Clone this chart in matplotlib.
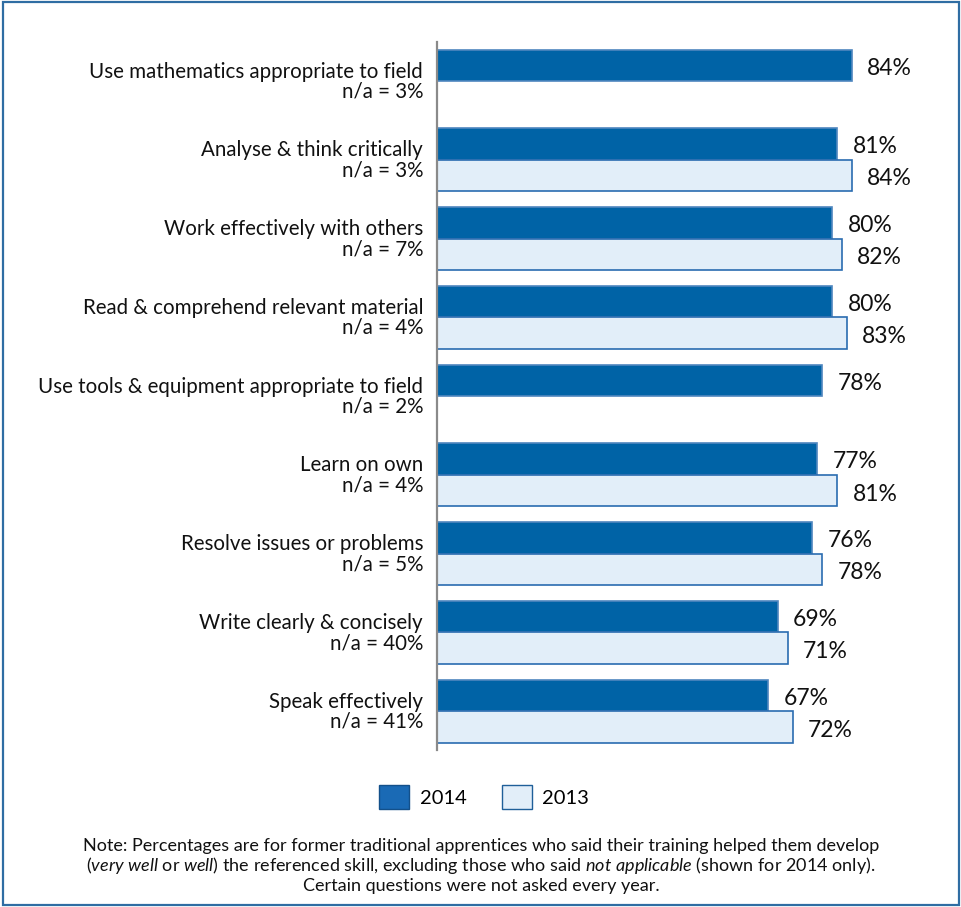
import matplotlib
matplotlib.use("Agg")
import matplotlib.pyplot as plt
import numpy as np
from matplotlib.patches import Patch, Rectangle

plt.rcParams["font.family"] = ["Lato", "DejaVu Sans"]
plt.rcParams["mathtext.fontset"] = "custom"
plt.rcParams["mathtext.rm"] = "Lato"
plt.rcParams["mathtext.it"] = "Lato:italic"

skills = [
    "Use mathematics appropriate to field",
    "Analyse & think critically",
    "Work effectively with others",
    "Read & comprehend relevant material",
    "Use tools & equipment appropriate to field",
    "Learn on own",
    "Resolve issues or problems",
    "Write clearly & concisely",
    "Speak effectively",
]
na_2014 = [3, 3, 7, 4, 2, 4, 5, 40, 41]
vals_2014 = [84, 81, 80, 80, 78, 77, 76, 69, 67]
vals_2013 = [None, 84, 82, 83, None, 81, 78, 71, 72]

dark = "#0063A6"
dark_edge = "#4F86BF"
light = "#E2EEF9"
light_edge = "#2A6CB0"

fig = plt.figure(figsize=(9.61, 9.07), dpi=100)
ax = fig.add_axes([437 / 961, 0.1726, 494 / 961, 0.7815])

y = np.arange(len(skills))
h = 0.4
ax.barh(y - h / 2, vals_2014, height=h, color=dark, edgecolor=dark_edge, linewidth=1.2)
y13 = [yy for yy, v in zip(y, vals_2013) if v is not None]
v13 = [v for v in vals_2013 if v is not None]
ax.barh(np.array(y13) + h / 2, v13, height=h, color=light, edgecolor=light_edge, linewidth=1.2)

for yy, v in zip(y, vals_2014):
    ax.annotate(f"{v}%", (v, yy - h / 2), xytext=(11, -2), textcoords="offset points",
                ha="left", va="center", fontsize=16.5, color="#111111")
for yy, v in zip(y13, v13):
    ax.annotate(f"{v}%", (v, yy + h / 2), xytext=(11, -2.5), textcoords="offset points",
                ha="left", va="center", fontsize=16.5, color="#111111")

for yy, s, n in zip(y, skills, na_2014):
    ax.annotate(f"{s}\nn/a = {n}%", (0, yy), xycoords=("axes fraction", "data"),
                xytext=(-10, -0.5), textcoords="offset points", ha="right", va="center",
                fontsize=14.8, linespacing=1.0, color="#111111")

ax.set_xlim(0, 100)
ax.set_ylim(8.5, -0.5)
ax.set_xticks([])
ax.set_yticks([])
for sp in ["top", "right", "bottom"]:
    ax.spines[sp].set_visible(False)
ax.spines["left"].set_color("#8A8A8A")
ax.spines["left"].set_linewidth(1.6)

handles = [Patch(facecolor="#1A6AB5", edgecolor="#13508A", label="2014"),
           Patch(facecolor=light, edgecolor="#1F5F99", label="2013")]
fig.legend(handles=handles, loc="center", bbox_to_anchor=(484 / 961, 1 - 797 / 907),
           ncol=2, frameon=False, fontsize=14.5, handlelength=1.5, handleheight=1.5,
           handletextpad=0.5, columnspacing=1.75)

note = [
    "Note: Percentages are for former traditional apprentices who said their training helped them develop",
    r"($\it{very\ well}$ or $\it{well}$) the referenced skill, excluding those who said $\it{not\ applicable}$ (shown for 2014 only).",
    "Certain questions were not asked every year.",
]
for i, line in enumerate(note):
    fig.text(481 / 961, 1 - (846 + 20 * i) / 907, line, ha="center", va="center",
             fontsize=13, color="#111111")

fig.patches.append(Rectangle((3 / 961, 2 / 907), 956 / 961, 903 / 907, transform=fig.transFigure,
                             fill=False, edgecolor="#2F6DA3", linewidth=1.6))

fig.savefig("out.png", dpi=100)
